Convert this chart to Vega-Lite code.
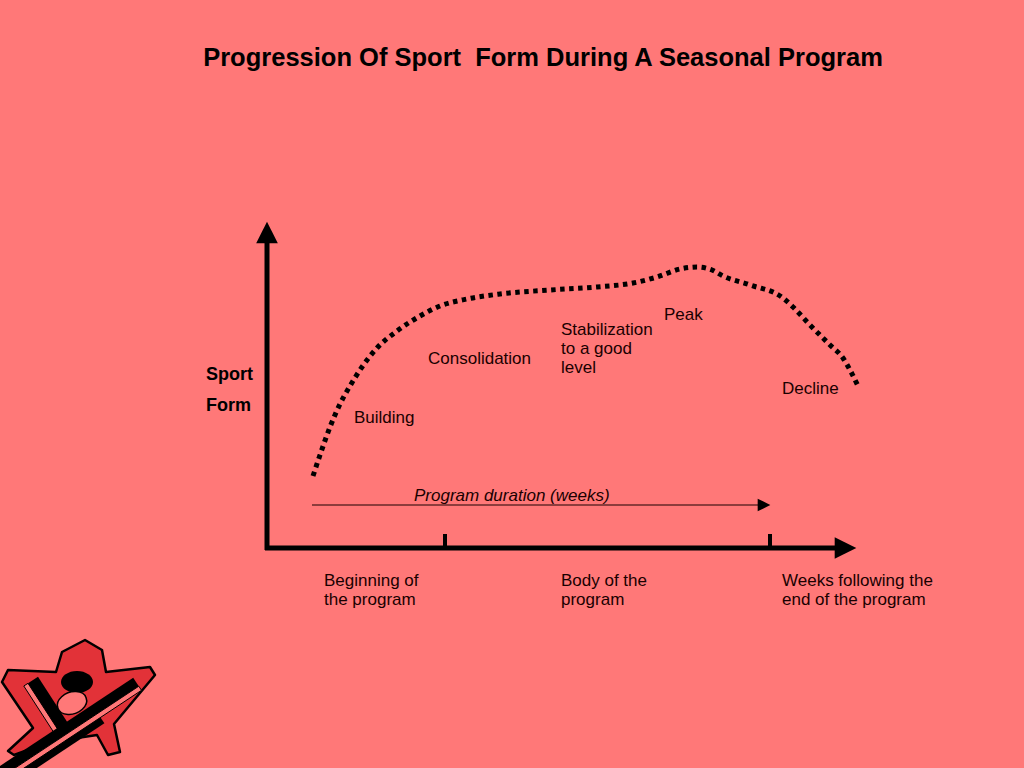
{
  "$schema": "https://vega.github.io/schema/vega-lite/v6.json",
  "width": 1024,
  "height": 768,
  "autosize": {"type": "none"},
  "padding": 0,
  "background": "#FF7878",
  "config": {"view": {"stroke": null}},
  "datasets": {
    "curve": [
      {"x": 313, "y": 476}, {"x": 320, "y": 455}, {"x": 330, "y": 427}, {"x": 340, "y": 404},
      {"x": 350, "y": 386}, {"x": 362, "y": 367}, {"x": 377, "y": 348}, {"x": 397, "y": 331},
      {"x": 420, "y": 316}, {"x": 440, "y": 306}, {"x": 467, "y": 299}, {"x": 500, "y": 294},
      {"x": 550, "y": 290}, {"x": 597, "y": 287}, {"x": 633, "y": 283}, {"x": 657, "y": 277},
      {"x": 680, "y": 269}, {"x": 697, "y": 267}, {"x": 712, "y": 270}, {"x": 723, "y": 276},
      {"x": 750, "y": 285}, {"x": 783, "y": 298}, {"x": 793, "y": 307}, {"x": 810, "y": 325},
      {"x": 830, "y": 345}, {"x": 843, "y": 358}, {"x": 850, "y": 370}, {"x": 858, "y": 386}
    ],
    "vaxis": [{"x": 267, "y": 550, "y2": 240}],
    "haxis": [{"x": 265, "x2": 838, "y": 548}],
    "ticks": [{"x": 445, "y": 548, "y2": 534}, {"x": 770, "y": 548, "y2": 534}],
    "duration": [{"x": 312, "x2": 760, "y": 505}],
    "arrowUp": [{"x": 267, "y": 232.5}],
    "arrowRight": [{"x": 845.5, "y": 548}],
    "arrowSmall": [{"x": 764, "y": 505}],
    "title": [{"x": 543, "y": 58, "label": "Progression Of Sport \u00a0Form During A Seasonal Program"}],
    "boldLabels": [{"x": 206, "y": 375, "label": "Sport"}, {"x": 206, "y": 406, "label": "Form"}],
    "labels": [
      {"x": 354, "y": 418, "label": "Building"},
      {"x": 428, "y": 359, "label": "Consolidation"},
      {"x": 561, "y": 330, "label": "Stabilization"},
      {"x": 561, "y": 349, "label": "to a good"},
      {"x": 561, "y": 368, "label": "level"},
      {"x": 664, "y": 315, "label": "Peak"},
      {"x": 782, "y": 389, "label": "Decline"},
      {"x": 324, "y": 581, "label": "Beginning of"},
      {"x": 324, "y": 600, "label": "the program"},
      {"x": 561, "y": 581, "label": "Body of the"},
      {"x": 561, "y": 600, "label": "program"},
      {"x": 782, "y": 581, "label": "Weeks following the"},
      {"x": 782, "y": 600, "label": "end of the program"}
    ],
    "italicLabels": [{"x": 414, "y": 496, "label": "Program duration (weeks)"}],
    "logo": [{"x": 77, "y": 704}]
  },
  "encoding": {
    "x": {"field": "x", "type": "quantitative", "scale": {"domain": [0, 1024], "nice": false, "zero": false}, "axis": null},
    "y": {"field": "y", "type": "quantitative", "scale": {"domain": [0, 768], "nice": false, "zero": false, "reverse": true}, "axis": null}
  },
  "layer": [
    {
      "data": {"name": "logo"},
      "mark": {"type": "point", "filled": true, "opacity": 1, "size": 4, "color": "#E23238", "stroke": "#000000", "strokeWidth": 2.5, "strokeJoin": "round",
        "shape": "M8,-64L25,-54L29,-32L73,-37L78,-29L37,20L43,48L31,51L20,31L-27,38L-63,51L-69,47L-44,24L-75,-22L-69,-34L-21,-32L-15,-52Z"}
    },
    {
      "data": {"name": "logo"},
      "mark": {"type": "point", "filled": true, "opacity": 1, "size": 4, "color": "#FF7878", "stroke": "#000000", "strokeWidth": 1,
        "shape": "M-49,-20.7L-18,27.3L-22.2,30L-53.2,-18Z"}
    },
    {
      "data": {"name": "logo"},
      "mark": {"type": "point", "filled": true, "opacity": 1, "size": 4, "color": "#000000",
        "shape": "M-49,-20.7L-39,-27.3L-8,20.7L-18,27.3Z"}
    },
    {
      "data": {"name": "logo"},
      "mark": {"type": "point", "filled": true, "opacity": 1, "size": 4, "color": "#000000",
        "shape": "M56.2,-26.2L-79.8,63.8L-74.2,72.2L61.8,-17.8Z"}
    },
    {
      "data": {"name": "logo"},
      "mark": {"type": "point", "filled": true, "opacity": 1, "size": 4, "color": "#FF7878", "stroke": "#000000", "strokeWidth": 1,
        "shape": "M61.8,-17.8L-74.2,72.2L-71.5,76.3L64.5,-13.7Z"}
    },
    {
      "data": {"name": "logo"},
      "mark": {"type": "point", "filled": true, "opacity": 1, "size": 4, "color": "#000000",
        "shape": "M23.5,13.4L-71.5,76.3L-67.6,82.2L27.4,19.3Z"}
    },
    {
      "data": {"name": "logo"},
      "mark": {"type": "point", "filled": true, "opacity": 1, "size": 4, "color": "#000000",
        "shape": "M-16,-22A16,11 0 1,0 16,-22A16,11 0 1,0 -16,-22Z"}
    },
    {
      "data": {"name": "logo"},
      "mark": {"type": "point", "filled": true, "opacity": 1, "size": 4, "color": "#FF7878", "stroke": "#000000", "strokeWidth": 1.5,
        "shape": "M-19.1,4.1A15,10.5 -20 1,0 9.1,-6.1A15,10.5 -20 1,0 -19.1,4.1Z"}
    },
    {
      "data": {"name": "vaxis"},
      "mark": {"type": "rule", "color": "#000000", "strokeWidth": 5},
      "encoding": {"y2": {"field": "y2"}}
    },
    {
      "data": {"name": "haxis"},
      "mark": {"type": "rule", "color": "#000000", "strokeWidth": 5},
      "encoding": {"x2": {"field": "x2"}}
    },
    {
      "data": {"name": "ticks"},
      "mark": {"type": "rule", "color": "#000000", "strokeWidth": 4},
      "encoding": {"y2": {"field": "y2"}}
    },
    {
      "data": {"name": "duration"},
      "mark": {"type": "rule", "color": "#1a0000", "strokeWidth": 1.2},
      "encoding": {"x2": {"field": "x2"}}
    },
    {
      "data": {"name": "arrowUp"},
      "mark": {"type": "point", "filled": true, "opacity": 1, "color": "#000000", "size": 470, "shape": "M-1,1L0,-1L1,1Z"}
    },
    {
      "data": {"name": "arrowRight"},
      "mark": {"type": "point", "filled": true, "opacity": 1, "color": "#000000", "size": 470, "shape": "M-1,-1L1,0L-1,1Z"}
    },
    {
      "data": {"name": "arrowSmall"},
      "mark": {"type": "point", "filled": true, "opacity": 1, "color": "#000000", "size": 160, "shape": "M-1,-1L1,0L-1,1Z"}
    },
    {
      "data": {"name": "curve"},
      "mark": {"type": "line", "color": "#000000", "strokeWidth": 5, "strokeDash": [4.5, 4.5], "strokeCap": "butt", "interpolate": "monotone"}
    },
    {
      "data": {"name": "title"},
      "mark": {"type": "text", "align": "center", "baseline": "middle", "font": "Liberation Sans", "fontWeight": "bold", "fontSize": 25.5, "color": "#000000"},
      "encoding": {"text": {"field": "label"}}
    },
    {
      "data": {"name": "boldLabels"},
      "mark": {"type": "text", "align": "left", "baseline": "middle", "font": "Liberation Sans", "fontWeight": "bold", "fontSize": 18, "color": "#000000"},
      "encoding": {"text": {"field": "label"}}
    },
    {
      "data": {"name": "labels"},
      "mark": {"type": "text", "align": "left", "baseline": "middle", "font": "Liberation Sans", "fontSize": 17, "color": "#1a0000"},
      "encoding": {"text": {"field": "label"}}
    },
    {
      "data": {"name": "italicLabels"},
      "mark": {"type": "text", "align": "left", "baseline": "middle", "font": "Liberation Sans", "fontStyle": "italic", "fontSize": 17, "color": "#1a0000"},
      "encoding": {"text": {"field": "label"}}
    }
  ]
}
